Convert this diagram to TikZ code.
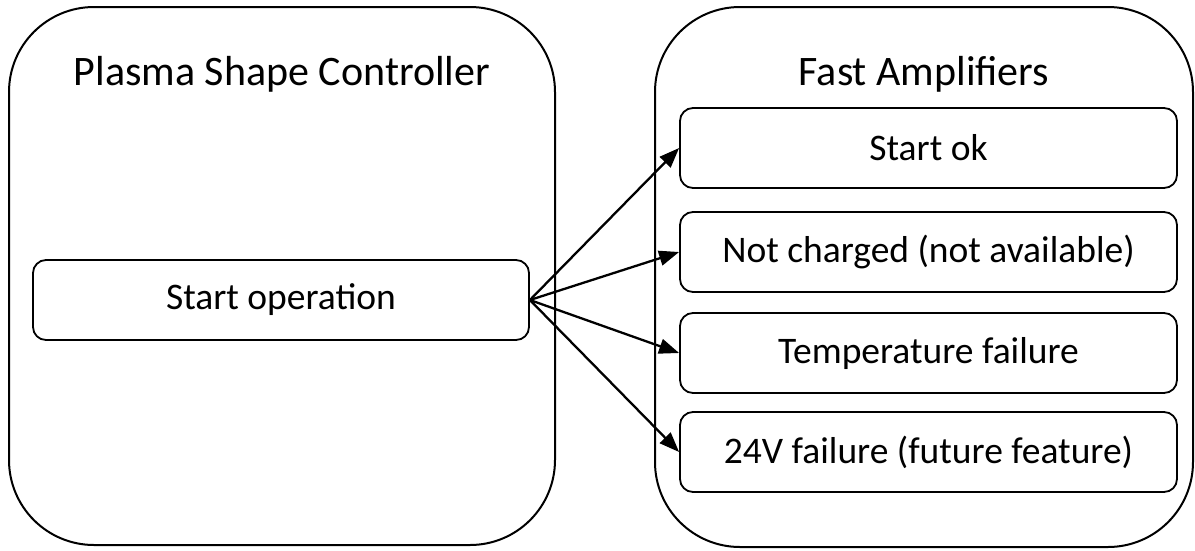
\documentclass[tikz,border=0pt]{standalone}
\usepackage{fontspec}
\setmainfont{Carlito}
\usetikzlibrary{arrows.meta}
\begin{document}
\begin{tikzpicture}[x=1pt,y=-1pt,
  group/.style={draw,line width=2pt,rounded corners=85pt},
  item/.style={draw,line width=1.8pt,rounded corners=13pt,inner sep=0pt,
    minimum width=497pt,minimum height=80pt,
    font=\fontsize{37.5}{42}\selectfont},
  title/.style={font=\fontsize{42}{46}\selectfont,anchor=base},
  link/.style={line width=2.3pt,-{Triangle[length=20pt,width=15pt]}}]
\useasboundingbox (0,0) rectangle (1195,550);
% containers
\draw[group] (9,7) rectangle (555,545);
\draw[group] (655,7) rectangle (1193,547);
\node[title] (psc) at (282,85) {Plasma Shape Controller};
\node[title] (fa) at (924,85) {Fast Amplifiers};
% left block
\node[item,minimum width=496pt] (start) at (281,300) {Start operation};
% right blocks
\node[item] (ok) at (928.5,148) {Start ok};
\node[item] (nc) at (928.5,252) {Not charged (not available)};
\node[item] (tf) at (928.5,353) {Temperature failure};
\node[item] (vf) at (928.5,452) {24V failure (future feature)};
% connectors
\foreach \t in {ok,nc,tf,vf}
  \draw[link] (start.east) -- (\t.west);
\end{tikzpicture}
\end{document}
